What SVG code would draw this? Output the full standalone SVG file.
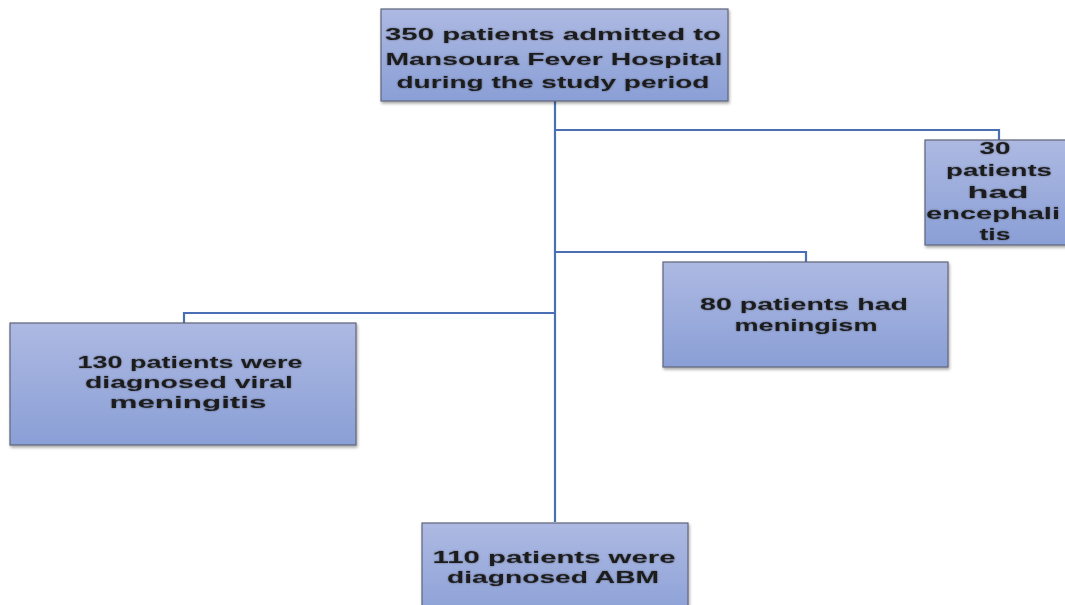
<svg xmlns="http://www.w3.org/2000/svg" width="1065" height="605" viewBox="0 0 1065 605">
<defs>
<linearGradient id="g" x1="0" y1="0" x2="0" y2="1">
<stop offset="0" stop-color="#adb9e2"/>
<stop offset="1" stop-color="#8a9fd6"/>
</linearGradient>
<filter id="sh" x="-10%" y="-10%" width="120%" height="130%">
<feDropShadow dx="1" dy="2" stdDeviation="1.5" flood-color="#000" flood-opacity="0.35"/>
</filter>
<filter id="ts" x="-5%" y="-20%" width="110%" height="140%">
<feDropShadow dx="0" dy="0" stdDeviation="0.8" flood-color="#000" flood-opacity="0.4"/>
</filter>
</defs>
<style>
.box{fill:url(#g);stroke:#5f6478;stroke-width:1.2;filter:url(#sh)}
.t{font-family:"Liberation Sans",Arial,sans-serif;font-weight:700;font-size:17px;fill:#1e1e1e;text-anchor:middle;filter:url(#ts)}
.c{fill:none;stroke:#4a6fb5;stroke-width:2.2}
</style>
<rect width="1065" height="605" fill="#ffffff"/>
<g id="connectors">
<path class="c" d="M555 101 V522"/>
<path class="c" d="M555 130 H999 V140"/>
<path class="c" d="M555 252 H806 V262"/>
<path class="c" d="M555 313 H184 V323"/>
</g>
<g id="n-top">
<rect class="box" x="381" y="9" width="347" height="92"/>
<text class="t"><tspan x="553" y="40" textLength="336" lengthAdjust="spacingAndGlyphs">350 patients admitted to</tspan><tspan x="554" y="65" textLength="337" lengthAdjust="spacingAndGlyphs">Mansoura Fever Hospital</tspan><tspan x="553" y="88" textLength="313" lengthAdjust="spacingAndGlyphs">during the study period</tspan></text>
</g>
<g id="n-enceph">
<rect class="box" x="925" y="140" width="150" height="105"/>
<text class="t"><tspan x="995" y="154" textLength="31" lengthAdjust="spacingAndGlyphs">30</tspan><tspan x="999" y="176" textLength="106" lengthAdjust="spacingAndGlyphs">patients</tspan><tspan x="998" y="198" textLength="61" lengthAdjust="spacingAndGlyphs">had</tspan><tspan x="993" y="219" textLength="134" lengthAdjust="spacingAndGlyphs">encephali</tspan><tspan x="995" y="240" textLength="31" lengthAdjust="spacingAndGlyphs">tis</tspan></text>
</g>
<g id="n-meningism">
<rect class="box" x="663" y="262" width="285" height="105"/>
<text class="t"><tspan x="804" y="310" textLength="208" lengthAdjust="spacingAndGlyphs">80 patients had</tspan><tspan x="806" y="331" textLength="143" lengthAdjust="spacingAndGlyphs">meningism</tspan></text>
</g>
<g id="n-viral">
<rect class="box" x="10" y="323" width="346" height="122"/>
<text class="t"><tspan x="190" y="368" textLength="225" lengthAdjust="spacingAndGlyphs">130 patients were</tspan><tspan x="189" y="388" textLength="208" lengthAdjust="spacingAndGlyphs">diagnosed viral</tspan><tspan x="188" y="408" textLength="157" lengthAdjust="spacingAndGlyphs">meningitis</tspan></text>
</g>
<g id="n-abm">
<rect class="box" x="422" y="523" width="266" height="100"/>
<text class="t"><tspan x="554" y="563" textLength="243" lengthAdjust="spacingAndGlyphs">110 patients were</tspan><tspan x="553" y="583" textLength="212" lengthAdjust="spacingAndGlyphs">diagnosed ABM</tspan></text>
</g>
</svg>
